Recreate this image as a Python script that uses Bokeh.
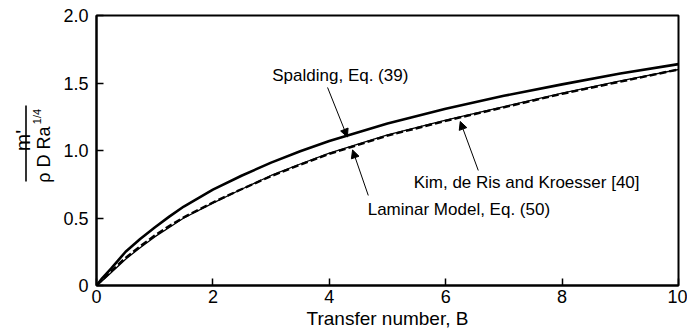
from bokeh.plotting import figure
from bokeh.layouts import row
from bokeh.models import Range1d, FixedTicker, Label, Arrow, NormalHead
from bokeh.embed import file_html
from bokeh.resources import INLINE
import numpy as np

# Transfer number B and the dimensionless burning rate m' / (rho D Ra^1/4)
transfer_number = [0, 0.1, 0.25, 0.5, 0.75, 1, 1.25, 1.5, 2, 2.5, 3, 3.5, 4, 5, 6, 7, 8, 9, 10]
spalding = [0, 0.055, 0.125, 0.25, 0.345, 0.43, 0.51, 0.585, 0.71, 0.815, 0.91, 0.995,
            1.07, 1.20, 1.31, 1.405, 1.49, 1.57, 1.64]
laminar = [0, 0.035, 0.095, 0.195, 0.28, 0.36, 0.43, 0.50, 0.61, 0.715, 0.815, 0.90,
           0.98, 1.115, 1.225, 1.325, 1.425, 1.515, 1.60]
kim = [0, 0.042, 0.105, 0.205, 0.29, 0.37, 0.44, 0.505, 0.615, 0.715, 0.81, 0.895,
       0.975, 1.11, 1.22, 1.32, 1.42, 1.51, 1.60]

x_ticks = [0, 2, 4, 6, 8, 10]
x_tick_labels = ["0", "2", "4", "6", "8", "10"]
y_ticks = [0, 0.5, 1.0, 1.5, 2.0]
y_tick_labels = ["0", "0.5", "1.0", "1.5", "2.0"]

FONT = "Liberation Sans"
H = 335
LABEL_W = 56
TOP, BOTTOM = 15, 50   # borders shared by both panels of the row

# ---- narrow panel holding the stacked-fraction y label ----
# its frame lines up with the chart frame, so map y so that one unit is one pixel,
# measured downward from the top of the page
lab = figure(width=LABEL_W, height=H, output_backend="svg", toolbar_location=None,
             x_range=Range1d(0, LABEL_W), y_range=Range1d(BOTTOM, H - TOP),
             min_border_left=0, min_border_right=0,
             min_border_top=TOP, min_border_bottom=BOTTOM)
lab.axis.visible = False
lab.grid.visible = False
lab.outline_line_color = None
lab.border_fill_color = "white"
lab.background_fill_color = "white"

def vtext(x, y, text, size):
    lab.add_layout(Label(x=x, y=H - y, text=text, angle=90, angle_units="deg",
                         text_align="center", text_baseline="alphabetic",
                         text_font=FONT, text_font_size=size, text_color="black"))

vtext(22, 140, "m'", "21px")
vtext(43, 154, "ρ D Ra", "18px")
vtext(36, 116, "1/4", "11px")
lab.line(x=[25.5, 25.5], y=[H - 105, H - 181], line_color="black", line_width=1.6)

# ---- main chart ----
p = figure(width=687 - LABEL_W, height=H, output_backend="svg", toolbar_location=None,
           x_range=Range1d(0, 10), y_range=Range1d(0, 2),
           min_border_left=96 - LABEL_W, min_border_right=9, min_border_top=TOP,
           min_border_bottom=BOTTOM)
p.background_fill_color = "white"
p.border_fill_color = "white"
p.outline_line_color = "black"
p.outline_line_width = 2
p.xgrid.visible = False
p.ygrid.visible = False

for ax, ticks, labels in ((p.xaxis[0], x_ticks, x_tick_labels), (p.yaxis[0], y_ticks, y_tick_labels)):
    ax.ticker = FixedTicker(ticks=ticks)
    ax.major_label_overrides = {t: l for t, l in zip(ticks, labels)}
    ax.major_tick_in = 7
    ax.major_tick_out = 0
    ax.minor_tick_in = 0
    ax.minor_tick_out = 0
    ax.axis_line_width = 2
    ax.major_tick_line_width = 1.5
    ax.major_label_text_font = FONT
    ax.major_label_text_font_size = "18px"
    ax.major_label_text_color = "black"
    ax.axis_label_text_font = FONT
    ax.axis_label_text_font_size = "19px"
    ax.axis_label_text_font_style = "normal"
    ax.axis_label_text_color = "black"

p.xaxis.axis_label = "Transfer number, B"
p.xaxis.major_label_standoff = 4
p.xaxis.axis_label_standoff = 2
p.yaxis.major_label_standoff = 8

# curves
p.line(transfer_number, spalding, line_color="black", line_width=2.6)
p.line(transfer_number, laminar, line_color="black", line_width=1.3)
p.line(transfer_number, kim, line_color="black", line_width=2.4, line_dash="7 3")

# callouts with arrows pointing at the curves
def callout(text, tx, ty, x0, y0, xb, curve, drop):
    p.add_layout(Label(x=tx, y=ty, text=text, text_align="left", text_baseline="middle",
                       text_font=FONT, text_font_size="17px", text_color="black"))
    yb = float(np.interp(xb, transfer_number, curve)) - drop
    p.add_layout(Arrow(end=NormalHead(size=8, fill_color="black", line_color="black"),
                       x_start=x0, y_start=y0, x_end=xb, y_end=yb,
                       line_color="black", line_width=1))

callout("Spalding, Eq. (39)", 3.02, 1.556, 3.97, 1.467, 4.31, spalding, 0.01)
callout("Kim, de Ris and Kroesser [40]", 5.45, 0.763, 6.56, 0.852, 6.25, kim, 0.03)
callout("Laminar Model, Eq. (50)", 4.66, 0.563, 4.67, 0.667, 4.40, laminar, 0.03)

layout = row(lab, p, spacing=0)
open("out.html", "w").write(file_html(layout, INLINE))
